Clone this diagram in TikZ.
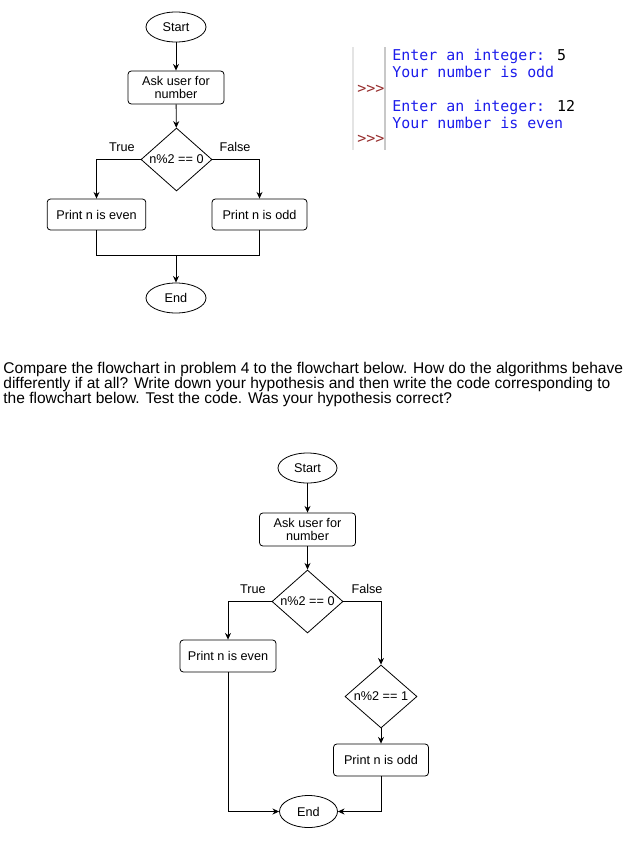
\documentclass[tikz,border=0pt]{standalone}
\usepackage{fontspec}
\setmainfont{Liberation Sans}
\newfontfamily\consolefont{DejaVu Sans Mono}
\usetikzlibrary{shapes.geometric,arrows.meta}
\definecolor{consoleblue}{RGB}{28,28,235}
\definecolor{promptred}{RGB}{150,45,45}
\definecolor{rulelight}{RGB}{228,228,228}
\definecolor{ruledark}{RGB}{200,200,200}
\begin{document}
\begin{tikzpicture}[x=0.75pt,y=-0.75pt,
  every node/.style={font=\fontsize{9.5}{11}\selectfont},
  term/.style={draw, ellipse, inner sep=0pt, minimum width=45pt, minimum height=22.5pt},
  procbox/.style={draw, rounded corners=2.5pt, inner sep=1pt, align=center, minimum height=24pt},
  decision/.style={draw, diamond, inner sep=0pt, minimum width=53.25pt, minimum height=47.25pt},
  arr/.style={-{Stealth[length=5pt,width=4.5pt]}},
  lbl/.style={font=\fontsize{9.5}{11}\selectfont},
  con/.style={anchor=base west, font=\consolefont\fontsize{11.2}{12}\selectfont, inner sep=0pt},
]
\useasboundingbox (0,0) rectangle (638,846);
\tikzset{every path/.style={line width=0.6pt}}

% ---------- top flowchart ----------
\node[term] (start1) at (176,27) {Start};
\node[procbox, minimum width=72pt, minimum height=24.75pt] (ask1) at (176,87.5) {Ask user for\\[-1pt]number};
\node[decision, label=center:{n\%2 == 0}] (dec1) at (176.5,159.5) {};
\node[procbox, minimum width=74pt, minimum height=23.25pt] (even1) at (96.5,214.5) {Print n is even};
\node[procbox, minimum width=71.25pt, minimum height=23.25pt] (odd1) at (259.5,214.5) {Print n is odd};
\node[term] (end1) at (176,298) {End};
\node[lbl] (true1) at (122,147) {True};
\node[lbl] (false1) at (235,147) {False};
\coordinate (merge1) at (176,255);

\draw[arr] (start1) -- (ask1);
\draw[arr] (ask1) -- (dec1);
\draw[arr] (dec1.west) -| (even1.north);
\draw[arr] (dec1.east) -| (odd1.north);
\draw (even1.south) |- (merge1);
\draw (odd1.south) |- (merge1);
\draw[arr] (merge1) -- (end1);

% ---------- console ----------
\draw[rulelight, line width=0.8pt] (353,47) -- (353,150);
\draw[ruledark, line width=0.8pt] (385,47) -- (385,150);
\node[con, text=consoleblue] (c1) at (392,60) {Enter an integer: \textcolor{black}{5}};
\node[con, text=consoleblue] (c2) at (392,77) {Your number is odd};
\node[con, text=promptred] (p1) at (357,93) {>>>};
\node[con, text=consoleblue] (c3) at (392,111.5) {Enter an integer: \textcolor{black}{12}};
\node[con, text=consoleblue] (c4) at (392,128) {Your number is even};
\node[con, text=promptred] (p2) at (357,143) {>>>};

% ---------- paragraph ----------
\node[anchor=base west, inner sep=0pt, align=left, font=\fontsize{11.65}{11.25}\selectfont] (para) at (3,403)
{Compare the flowchart in problem 4 to the flowchart below. How do the algorithms behave\\
differently if at all? Write down your hypothesis and then write the code corresponding to\\
the flowchart below. Test the code. Was your hypothesis correct?};

% ---------- bottom flowchart ----------
\node[term, minimum width=44.25pt] (start2) at (307.5,468) {Start};
\node[procbox, minimum width=72pt, minimum height=24.75pt] (ask2) at (307.5,529.5) {Ask user for\\[-1pt]number};
\node[decision, label=center:{n\%2 == 0}] (dec2) at (307.5,601.5) {};
\node[procbox, minimum width=72pt, minimum height=24pt] (even2) at (228,656) {Print n is even};
\node[decision, minimum width=54pt, label=center:{n\%2 == 1}] (dec3) at (381,696.5) {};
\node[procbox, minimum width=71.25pt, minimum height=24pt] (odd2) at (381,760) {Print n is odd};
\node[term, minimum width=43.5pt, minimum height=24pt] (end2) at (308.5,811.5) {End};
\node[lbl] (true2) at (253,589) {True};
\node[lbl] (false2) at (367,589) {False};

\draw[arr] (start2) -- (ask2);
\draw[arr] (ask2) -- (dec2);
\draw[arr] (dec2.west) -| (even2.north);
\draw[arr] (dec2.east) -| (dec3.north);
\draw[arr] (dec3) -- (odd2);
\draw[arr] (even2.south) |- (end2.west);
\draw[arr] (odd2.south) |- (end2.east);
\end{tikzpicture}
\end{document}
